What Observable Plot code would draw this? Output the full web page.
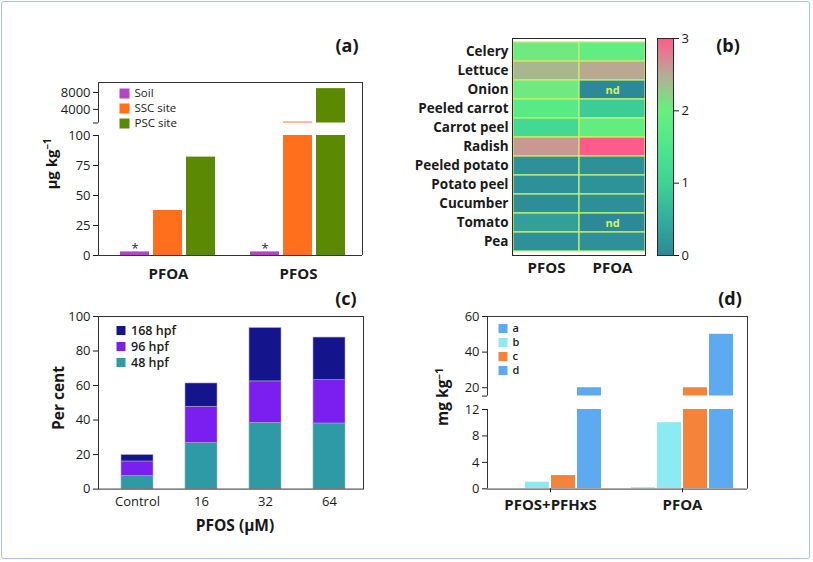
<!DOCTYPE html>
<html><head><meta charset="utf-8">
<script src="https://cdn.jsdelivr.net/npm/d3@7"></script>
<script src="https://cdn.jsdelivr.net/npm/@observablehq/plot@0.6"></script>
<style>
body{margin:0;background:#fff;}
#root{position:relative;width:813px;height:562px;overflow:hidden;font-family:'Open Sans',sans-serif;background:#fff;}
#border{position:absolute;left:1px;top:1px;width:807px;height:556px;border:1px solid #a9c5ec;border-radius:3px;}
.t{position:absolute;font-weight:700;color:#161616;white-space:nowrap;line-height:1;font-family:'Open Sans',sans-serif;}
.t sup{font-size:0.65em;vertical-align:0.55em;line-height:0;}
svg g[aria-label^="y-axis"] text, svg g[aria-label^="x-axis"] text{font-size:13px;}
.bx g[aria-label^="fx-axis"] text, .bx g[aria-label^="x-axis"] text{font-weight:700;font-size:15px;}
.by g[aria-label^="y-axis"] text{font-weight:700;font-size:13.5px;}
</style></head><body><div id="root"><div id="border"></div></div>
<script>
// ---------- (a) ----------
const aCompounds = ["PFOA", "PFOS"];
const aSites = ["Soil", "SSC site", "PSC site"];
const aSoil = [3, 3];
const aSSC = [37.5, 1000];
const aPSC = [82, 8900];
const aNotes = ["*", "*"];
const aColors = ["#b444c6", "#ff6f1c", "#5b8a02"];
const aLowDomain = [0, 100];
const aLowTicks = [0, 25, 50, 75, 100];
const aHighDomain = [780, 10350];
const aHighTicks = [780, 4000, 8000];

// ---------- (b) ----------
const bCrops = ["Celery", "Lettuce", "Onion", "Peeled carrot", "Carrot peel", "Radish", "Peeled potato", "Potato peel", "Cucumber", "Tomato", "Pea"];
const bCompounds = ["PFOS", "PFOA"];
const bPFOS = [2.05, 2.4, 2.05, 1.7, 1.15, 2.6, 0.1, 0.1, 0.05, 0.3, 0.1];
const bPFOA = [1.85, 2.5, "nd", 0.9, 1.85, 3.0, 0.1, 0.12, 0.08, "nd", 0.1];
const bStops = [0, 0.5, 1, 1.5, 2, 2.5, 3];
const bColors = ["#2c8a98", "#34ae9c", "#3fd395", "#4fe68c", "#68f07e", "#b9a994", "#ff5a8c"];
const bTicks = [0, 1, 2, 3];

// ---------- (c) ----------
const cDoses = ["Control", "16", "32", "64"];
const cStages = ["48 hpf", "96 hpf", "168 hpf"];
const c48 = [7.7, 26.8, 38.4, 38];
const c96 = [8.3, 20.9, 24, 25.1];
const c168 = [3.7, 13.5, 30.9, 24.7];
const cColors = ["#2e9aa6", "#7b1ff0", "#14148c"];
const cTicks = [0, 20, 40, 60, 80, 100];

// ---------- (d) ----------
const dGroups = ["PFOS+PFHxS", "PFOA"];
const dSeries = ["a", "b", "c", "d"];
const dA = [0, 0.1];
const dB = [1, 10];
const dC = [2, 20];
const dD = [20, 50];
const dColors = ["#5eaaf0", "#8ceaf2", "#f5843a", "#5eaaf0"];
const dLowDomain = [0, 12];
const dLowTicks = [0, 4, 8, 12];
const dHighDomain = [15.3, 60];
const dHighTicks = [15.3, 20, 40, 60];

// ---------- helpers ----------
const root = document.getElementById("root");
const INK = "#1a1a1a";
function place(x0, y0, x1, y1, m, opts, cls) {
  const [t, r, b, l] = m;
  const svg = Plot.plot({
    width: (x1 - x0) + l + r,
    height: (y1 - y0) + t + b,
    marginTop: t, marginRight: r, marginBottom: b, marginLeft: l,
    style: {background: "transparent", fontFamily: "'Open Sans', sans-serif", fontSize: "13px", color: INK, overflow: "visible"},
    ...opts
  });
  svg.style.position = "absolute";
  svg.style.left = (x0 - l) + "px";
  svg.style.top = (y0 - t) + "px";
  svg.style.maxWidth = "none";
  if (cls) svg.classList.add(...cls.split(" "));
  root.appendChild(svg);
  return svg;
}
function text(html, cx, cy, size, rotate) {
  const d = document.createElement("div");
  d.className = "t";
  d.innerHTML = html;
  d.style.left = cx + "px";
  d.style.top = cy + "px";
  d.style.fontSize = size + "px";
  d.style.transform = "translate(-50%, -50%)" + (rotate ? " rotate(-90deg)" : "");
  root.appendChild(d);
}
function frameLines(x0, y0, x1, y1) {
  place(x0, y0, x1, y1, [2, 2, 2, 2], {
    x: {domain: [0, 1], axis: null},
    y: {domain: [0, 1], axis: null},
    marks: [Plot.ruleY([0, 1], {stroke: "#333"}), Plot.ruleX([1], {stroke: "#333"})]
  });
}
function yAxis(x0, y0, x1, y1, domain, ticks, blankFirst) {
  place(x0, y0, x1, y1, [2, 2, 2, 44], {
    x: {domain: [0, 1], axis: null},
    y: {domain, ticks, tickSize: 5, tickPadding: 3, label: null,
        tickFormat: d => (blankFirst && d === domain[0]) ? "" : d3.format("d")(d)},
    marks: [Plot.ruleX([0], {y1: domain[0], y2: domain[1], stroke: "#333"})]
  });
}
function legend(x, yTop, yBottom, names, colors, side, gap, fs, fw) {
  place(x, yTop, x + 90, yBottom, [8, 2, 8, 0], {
    y: {type: "point", domain: names, padding: 0, axis: null},
    color: {domain: names, range: colors},
    marks: [
      Plot.dot(names, {y: d => d, fill: d => d, symbol: "square", r: side / 1.772, frameAnchor: "left", dx: side / 2}),
      Plot.text(names, {y: d => d, text: d => d, frameAnchor: "left", dx: gap, textAnchor: "start", fontSize: fs, fontWeight: fw, fill: INK})
    ]
  });
}

// ---------- panel (a) ----------
const aRows = aCompounds.flatMap((compound, i) => [
  {compound, site: aSites[0], value: aSoil[i], note: aNotes[i]},
  {compound, site: aSites[1], value: aSSC[i], note: ""},
  {compound, site: aSites[2], value: aPSC[i], note: ""}
]);
const aFx = {domain: aCompounds, paddingInner: 0.198, paddingOuter: 0.107, align: 0.59, label: null, tickSize: 0};
const aX = {domain: aSites, paddingInner: 0.12, paddingOuter: 0.1, axis: null};
const aColor = {domain: aSites, range: aColors};
place(98, 135, 362, 255, [2, 2, 32, 2], {
  facet: {data: aRows, x: "compound"},
  fx: {...aFx, axis: "bottom", tickPadding: 13},
  x: aX, y: {domain: aLowDomain, axis: null}, color: aColor,
  marks: [
    Plot.barY(aRows, {x: "site", y: "value", fill: "site", clip: true}),
    Plot.text(aRows, {filter: d => d.note, x: "site", y: "value", text: "note", lineAnchor: "middle", dy: -3, fontSize: 13, fill: "#1b1b4d"})
  ]
}, "bx");
place(98, 82, 362, 122.5, [2, 2, 2, 2], {
  facet: {data: aRows, x: "compound"},
  fx: {...aFx, axis: null},
  x: aX, y: {domain: aHighDomain, axis: null}, color: aColor,
  marks: [Plot.barY(aRows, {x: "site", y: "value", fill: "site", clip: true})]
});
frameLines(98, 82, 362, 255);
yAxis(98, 135, 362, 255, aLowDomain, aLowTicks, false);
yAxis(98, 82, 362, 122.5, aHighDomain, aHighTicks, true);
legend(119, 93, 123, aSites, aColors, 10, 15, 11.5, 500);
text("μg kg<sup>−1</sup>", 51, 164, 15, true);
text("(a)", 347, 45, 18, false);

// ---------- panel (b) ----------
const bRows = bCrops.flatMap((crop, i) => [
  {crop, compound: "PFOS", raw: bPFOS[i]},
  {crop, compound: "PFOA", raw: bPFOA[i]}
]);
const bColor = {type: "linear", domain: bStops, range: bColors};
place(512, 38, 645, 255, [2, 2, 30, 112], {
  x: {domain: bCompounds, padding: 0, tickSize: 0, tickPadding: 7, label: null},
  y: {domain: bCrops, padding: 0, tickSize: 0, tickPadding: 4, label: null},
  color: bColor,
  marks: [
    Plot.cell(bRows, {x: "compound", y: "crop", fill: d => d.raw === "nd" ? 0 : d.raw, stroke: "#c6ef6a", strokeWidth: 1.3, inset: 0}),
    Plot.text(bRows, {filter: d => d.raw === "nd", x: "compound", y: "crop", text: "raw", fill: "#d2f55e", fontWeight: 700, fontSize: 11}),
    Plot.frame({stroke: "#2a2a2a"})
  ]
}, "bx by");
const ramp = d3.range(0, 3, 0.015);
place(657, 38, 673, 255, [2, 40, 2, 2], {
  y: {domain: [0, 3], axis: "right", ticks: bTicks, tickSize: 5, tickPadding: 3, label: null, tickFormat: d3.format("d")},
  color: bColor,
  marks: [
    Plot.barY(ramp, {y1: d => d, y2: d => Math.min(3, d + 0.02), fill: d => d, shapeRendering: "crispEdges"}),
    Plot.frame({stroke: "#2a2a2a"})
  ]
});
text("(b)", 728, 45, 18, false);

// ---------- panel (c) ----------
const cRows = [
  ...cDoses.map((dose, i) => ({dose, stage: cStages[0], value: c48[i]})),
  ...cDoses.map((dose, i) => ({dose, stage: cStages[1], value: c96[i]})),
  ...cDoses.map((dose, i) => ({dose, stage: cStages[2], value: c168[i]}))
];
place(98, 315.7, 363, 488.3, [2, 2, 30, 44], {
  x: {domain: cDoses, paddingInner: 0.505, paddingOuter: 0.3, align: 0.56, tickSize: 0, tickPadding: 8, label: null},
  y: {domain: [0, 100], ticks: cTicks, tickSize: 5, tickPadding: 3, label: null},
  color: {domain: cStages, range: cColors},
  marks: [
    Plot.barY(cRows, {x: "dose", y: "value", fill: "stage", stroke: "#a8a8b0", strokeWidth: 0.6}),
    Plot.frame({stroke: "#333"})
  ]
});
legend(116, 330, 362, [...cStages].reverse(), [...cColors].reverse(), 9, 14.5, 12.5, 600);
text("Per cent", 59, 398, 15.5, true);
text("PFOS (μM)", 235, 526, 15.5, false);
text("(c)", 346, 298, 18, false);

// ---------- panel (d) ----------
const dRows = dGroups.flatMap((group, i) => [
  {group, series: dSeries[0], value: dA[i]},
  {group, series: dSeries[1], value: dB[i]},
  {group, series: dSeries[2], value: dC[i]},
  {group, series: dSeries[3], value: dD[i]}
]);
const dFx = {domain: dGroups, paddingInner: 0.197, paddingOuter: 0.083, align: 0.45, label: null};
const dX = {domain: dSeries, paddingInner: 0.074, paddingOuter: 0, axis: null};
const dColor = {domain: dSeries, range: dColors};
place(487, 409, 747, 488.3, [2, 2, 32, 2], {
  facet: {data: dRows, x: "group"},
  fx: {...dFx, axis: "bottom", tickSize: 4, tickPadding: 7},
  x: dX, y: {domain: dLowDomain, axis: null}, color: dColor,
  marks: [Plot.barY(dRows, {x: "series", y: "value", fill: "series", clip: true})]
}, "bx");
place(487, 315.7, 747, 395.3, [2, 2, 2, 2], {
  facet: {data: dRows, x: "group"},
  fx: {...dFx, axis: null},
  x: dX, y: {domain: dHighDomain, axis: null}, color: dColor,
  marks: [Plot.barY(dRows, {x: "series", y: "value", fill: "series", clip: true})]
});
frameLines(487, 315.7, 747, 488.3);
yAxis(487, 409, 747, 488.3, dLowDomain, dLowTicks, false);
yAxis(487, 315.7, 747, 395.3, dHighDomain, dHighTicks, true);
legend(498, 326.7, 370, dSeries, dColors, 9, 14, 11, 600);
text("mg kg<sup>−1</sup>", 443, 397, 15.5, true);
text("(d)", 730, 298, 18, false);
</script></body></html>
